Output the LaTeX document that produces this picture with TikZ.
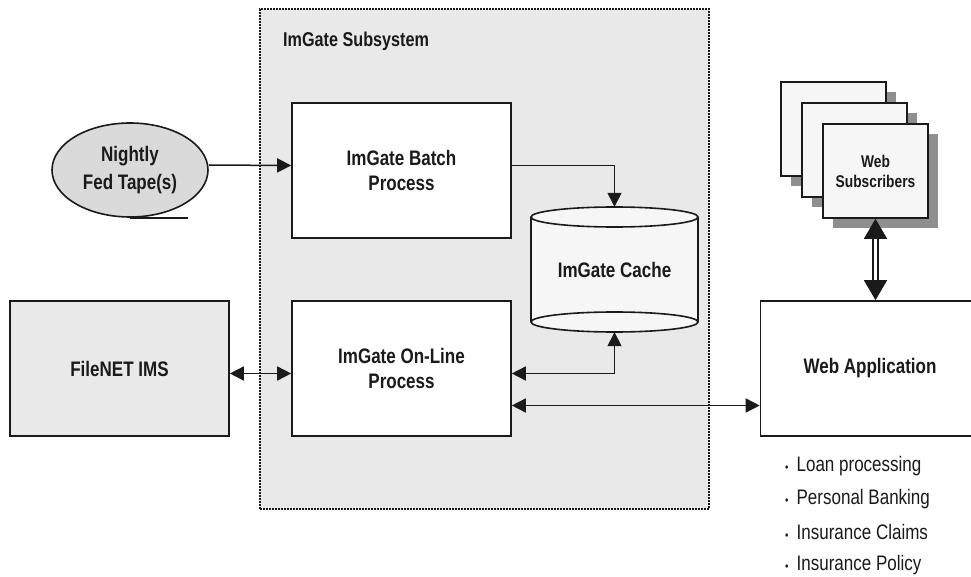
\documentclass[tikz,border=0pt]{standalone}
\usepackage{fontspec}
\setmainfont{Liberation Sans}[FakeStretch=0.81]
\usepackage{tikz}
\usetikzlibrary{arrows.meta,positioning,calc,shapes.geometric,shadows}
\definecolor{cInk}{HTML}{1A1A1A}
\definecolor{cPanel}{HTML}{E9E9E9}
\definecolor{cTape}{HTML}{DADADA}
\definecolor{cPage}{HTML}{F6F6F6}
\definecolor{cShade}{HTML}{8F8F8F}
\tikzset{
  pbox/.style={draw=cInk,fill=#1,line width=1.6pt,align=center,font=\fontsize{21}{25}\selectfont\bfseries,text=cInk,inner sep=0pt},
  pbox/.default=white,
  arr/.style={-{Triangle[length=14pt,width=14pt]},line width=1.5pt,color=cInk},
  darr/.style={{Triangle[length=14pt,width=14pt]}-{Triangle[length=14pt,width=14pt]},line width=1.5pt,color=cInk},
  blt/.style={anchor=west,font=\fontsize{21}{24}\selectfont,text=cInk,inner sep=0pt},
  cyl/.style={draw=cInk,fill=cPage,line width=1.6pt},
}
\begin{document}
\begin{tikzpicture}[x=1pt,y=-1pt,
    proc/.style={pbox,minimum width=219pt,minimum height=135pt},
    page/.style={pbox=cPage,minimum width=105pt,minimum height=94pt,font=\fontsize{17}{20}\selectfont\bfseries,
      drop shadow={shadow xshift=10pt,shadow yshift=-10pt,fill=cShade,opacity=1,draw=none}}]
  \useasboundingbox (0,0) rectangle (971,577);
  \node[draw=cInk,fill=cPanel,line width=1.6pt,dash pattern=on 1.6pt off 1.4pt,minimum width=449pt,minimum height=500pt] (sub) at (484.5,259) {};
  \node[font=\fontsize{20}{24}\selectfont\bfseries,text=cInk,anchor=west,inner sep=0pt] (subttl) at (283,41) {ImGate Subsystem};
  \node[proc] (batch) at (401.5,170.5) {ImGate Batch\\Process};
  \node[proc] (online) at (401.5,368.5) {ImGate On-Line\\Process};
  \node[proc,fill=cPanel] (filenet) at (119.5,368.5) {FileNET IMS};
  \node[proc] (webapp) at (870,368.5) {Web Application};
  \node[pbox=cTape,ellipse,minimum width=156pt,minimum height=94pt,font=\fontsize{21}{28}\selectfont\bfseries] (tape) at (130,170) {Nightly\\Fed Tape(s)};
  \draw[line width=1.6pt,cInk] (tape.south) -- ++(58,0);
  \fill[cPage] (531,217) rectangle (698,322);
  \draw[cyl] (614.5,322) ellipse [x radius=83.5pt,y radius=10pt];
  \draw[line width=1.6pt,cInk] (531,217) -- (531,322) (698,217) -- (698,322);
  \draw[cyl] (614.5,217) ellipse [x radius=83.5pt,y radius=10pt];
  \node[align=center,font=\fontsize{21}{25}\selectfont\bfseries,text=cInk,inner sep=0pt,minimum width=167pt,minimum height=125pt] (cache) at (614.5,269.5) {ImGate Cache};
  \foreach \i/\x/\y in {1/833.5/129,2/854.5/150}
    \node[page] (pg\i) at (\x,\y) {};
  \node[page] (subs) at (875.5,171) {Web\\Subscribers};
  \draw[{Triangle[length=20pt,width=23pt]}-{Triangle[length=20pt,width=23pt]},double=white,double distance=3.5pt,line width=1.4pt,cInk] (subs.south) -- (subs.south |- webapp.north);
  \draw[arr] ([yshift=5pt]tape.east) -- ([yshift=5pt]batch.west);
  \draw[arr] ([yshift=5pt]batch.east) -| (cache.north);
  \draw[darr] (cache.south) |- ([yshift=-5pt]online.east);
  \draw[darr] ([yshift=-5pt]filenet.east) -- ([yshift=-5pt]online.west);
  \draw[darr] ([yshift=-37pt]online.east) -- ([yshift=-37pt]online.east -| webapp.west);
  \foreach \t [count=\i from 0] in {Loan processing,Personal Banking,Insurance Claims,Insurance Policy}
    \node[blt] (use\i) at (785,466+33*\i) {{\fontsize{12}{12}\selectfont •}\hspace{8pt}\t};
\end{tikzpicture}
\end{document}
